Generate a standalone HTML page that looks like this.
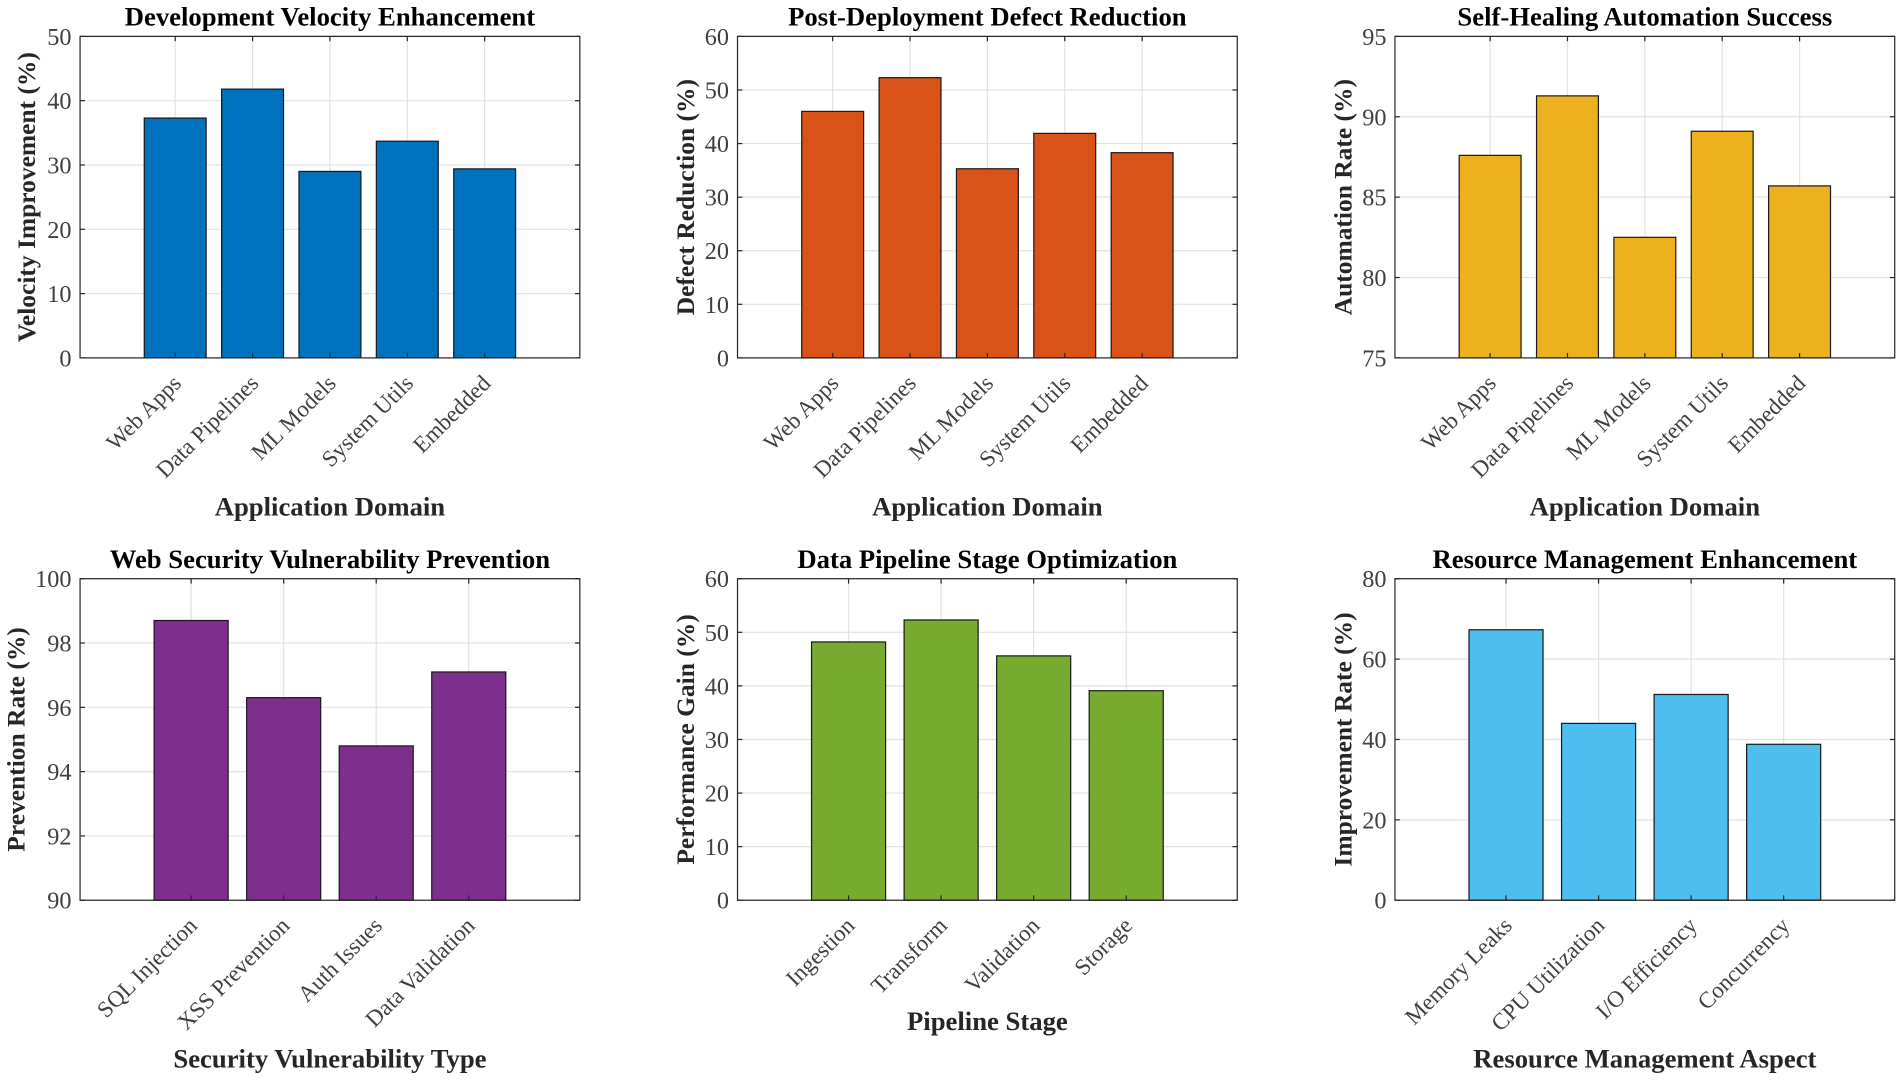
<!DOCTYPE html>
<html><head><meta charset="utf-8"><style>
html,body{margin:0;padding:0;background:#fff}
svg{display:block}
text{font-family:"Liberation Serif",serif;fill:#262626}
.t{font-weight:bold;font-size:22px;fill:#000}
.al{font-weight:bold;font-size:22px;fill:#262626}
.yl{font-weight:bold;font-size:21px;fill:#262626}
.tk{font-size:20px;fill:#404040}
.ct{font-size:19px;fill:#404040}
</style></head><body>
<svg id="fig" width="1902" height="1081" viewBox="0 0 1568 891" preserveAspectRatio="none" xmlns="http://www.w3.org/2000/svg"></svg>
<script>
const c1=["Web Apps","Data Pipelines","ML Models","System Utils","Embedded"];
const v1=[37.3,41.8,29.0,33.7,29.4];
const v2=[46.0,52.3,35.3,41.9,38.3];
const v3=[87.6,91.3,82.5,89.1,85.7];
const c4=["SQL Injection","XSS Prevention","Auth Issues","Data Validation"];
const v4=[98.7,96.3,94.8,97.1];
const c5=["Ingestion","Transform","Validation","Storage"];
const v5=[48.2,52.3,45.6,39.1];
const c6=["Memory Leaks","CPU Utilization","I/O Efficiency","Concurrency"];
const v6=[67.3,44.0,51.2,38.8];
const t1=[0,10,20,30,40,50],t2=[0,10,20,30,40,50,60],t3=[75,80,85,90,95],t4=[90,92,94,96,98,100],t5=[0,10,20,30,40,50,60],t6=[0,20,40,60,80];

const NS="http://www.w3.org/2000/svg";
const fig=document.getElementById('fig');
function el(tag,attrs,parent,txt){const e=document.createElementNS(NS,tag);for(const k in attrs)e.setAttribute(k,attrs[k]);if(txt!==undefined)e.textContent=txt;parent.appendChild(e);return e;}

const panels=[
 {name:"velocity",title:"Development Velocity Enhancement",yl:"Velocity Improvement (%)",xl:"Application Domain",cats:c1,vals:v1,ticks:t1,col:"#0072BD",x:66,y:30,ylx:22,xly:418},
 {name:"defect",title:"Post-Deployment Defect Reduction",yl:"Defect Reduction (%)",xl:"Application Domain",cats:c1,vals:v2,ticks:t2,col:"#D95319",x:608,y:30,ylx:565,xly:418},
 {name:"self-healing",title:"Self-Healing Automation Success",yl:"Automation Rate (%)",xl:"Application Domain",cats:c1,vals:v3,ticks:t3,col:"#EDB120",x:1150,y:30,ylx:1107,xly:418},
 {name:"security",title:"Web Security Vulnerability Prevention",yl:"Prevention Rate (%)",xl:"Security Vulnerability Type",cats:c4,vals:v4,ticks:t4,col:"#7E2F8E",x:66,y:477,ylx:13,xly:873},
 {name:"pipeline",title:"Data Pipeline Stage Optimization",yl:"Performance Gain (%)",xl:"Pipeline Stage",cats:c5,vals:v5,ticks:t5,col:"#77AC30",x:608,y:477,ylx:565,xly:842},
 {name:"resource",title:"Resource Management Enhancement",yl:"Improvement Rate (%)",xl:"Resource Management Aspect",cats:c6,vals:v6,ticks:t6,col:"#4DBEEE",x:1150,y:477,ylx:1107,xly:873}
];
const W=412,H=265;
panels.forEach(p=>{
 const g=el('g',{},fig);
 
 
 const n=p.cats.length,pad=n===5?1.23:1.2;
 const x0=1-pad,x1=n+pad;
 const ymin=p.ticks[0],ymax=p.ticks[p.ticks.length-1];
 const sx=v=>p.x+(v-x0)/(x1-x0)*W;
 const sy=v=>p.y+H-(v-ymin)/(ymax-ymin)*H;
 p.ticks.forEach(t=>{
  const l=el('line',{x1:p.x,x2:p.x+W,y1:sy(t),y2:sy(t),stroke:'#e3e3e3','stroke-width':1},g);
  
  
 });
 p.cats.forEach((c,i)=>{
  const l=el('line',{x1:sx(i+1),x2:sx(i+1),y1:p.y,y2:p.y+H,stroke:'#e3e3e3','stroke-width':1},g);
  
  
 });
 p.vals.forEach((v,i)=>{
  const bx=sx(i+1-0.4),bw=sx(i+1.4)-sx(i+1-0.4);
  const r=el('rect',{x:bx,y:sy(v),width:bw,height:sy(ymin)-sy(v),fill:p.col,stroke:'#1a1a1a','stroke-width':1},g);
  
  
 });
 const b=el('rect',{x:p.x,y:p.y,width:W,height:H,fill:'none',stroke:'#262626','stroke-width':1},g);
 
 
 p.ticks.forEach(t=>{
  el('line',{x1:p.x,x2:p.x+4,y1:sy(t),y2:sy(t),stroke:'#262626'},g);
  el('line',{x1:p.x+W-4,x2:p.x+W,y1:sy(t),y2:sy(t),stroke:'#262626'},g);
  const tx=el('text',{x:p.x-7,y:sy(t)+7,'text-anchor':'end',class:'tk'},g,String(t));
  
  
 });
 p.cats.forEach((c,i)=>{
  const cx=sx(i+1);
  el('line',{x1:cx,x2:cx,y1:p.y+H,y2:p.y+H-4,stroke:'#262626'},g);
  el('line',{x1:cx,x2:cx,y1:p.y,y2:p.y+4,stroke:'#262626'},g);
  const ax=cx+6,ay=p.y+H+22;
  const tx=el('text',{x:ax,y:ay,'text-anchor':'end',class:'ct',transform:`rotate(-45 ${ax} ${ay})`},g,c);
  
  
 });
 const tt=el('text',{x:p.x+W/2,y:p.y-9,'text-anchor':'middle',class:'t'},g,p.title);
 
 
 const yx=p.ylx+7,yy=p.y+H/2;
 const yl=el('text',{x:yx,y:yy,'text-anchor':'middle',class:'yl',transform:`rotate(-90 ${yx} ${yy})`},g,p.yl);
 
 
 const xl=el('text',{x:p.x+W/2,y:p.xly+7,'text-anchor':'middle',class:'al'},g,p.xl);
 
 
});
</script>
</body></html>
